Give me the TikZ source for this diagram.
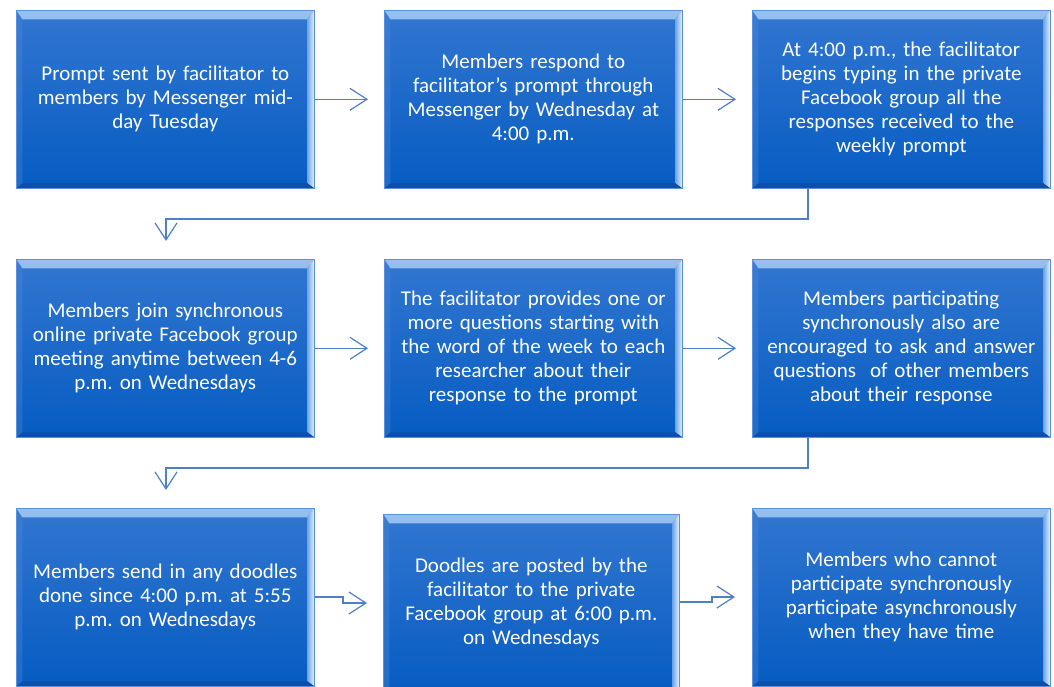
\documentclass[tikz,border=0pt]{standalone}
\usepackage{fontspec}
\setmainfont{Carlito}
\usetikzlibrary{arrows.meta}
\definecolor{bxtop}{RGB}{50,118,208}
\definecolor{bxbot}{RGB}{6,92,194}
\definecolor{bxedge}{RGB}{90,145,220}
\definecolor{bevA}{RGB}{150,192,238}
\definecolor{bevB}{RGB}{72,136,216}
\definecolor{bevR}{RGB}{232,243,255}
\definecolor{bevRi}{RGB}{110,165,230}
\definecolor{bevD}{RGB}{12,78,170}
\definecolor{conn}{RGB}{78,128,200}
\tikzset{
  bx/.style={rectangle, anchor=north west, minimum width=298pt, minimum height=178pt,
    inner sep=0pt, text width=296pt, align=center, text=white,
    font=\fontsize{21}{24}\selectfont\frenchspacing,
    top color=bxtop, bottom color=bxbot, draw=bxedge, line width=0.6pt,
    path picture={
      \shade[top color=bevA, bottom color=bevB]
        (path picture bounding box.north west) -- (path picture bounding box.north east)
        -- ([xshift=-7pt,yshift=-9pt]path picture bounding box.north east)
        -- ([xshift=6pt,yshift=-9pt]path picture bounding box.north west) -- cycle;
      \shade[left color=bevRi, right color=bevR]
        (path picture bounding box.north east) -- (path picture bounding box.south east)
        -- ([xshift=-7pt,yshift=5pt]path picture bounding box.south east)
        -- ([xshift=-7pt,yshift=-9pt]path picture bounding box.north east) -- cycle;
      \fill[bevD]
        (path picture bounding box.south west) -- (path picture bounding box.south east)
        -- ([xshift=-7pt,yshift=5pt]path picture bounding box.south east)
        -- ([xshift=6pt,yshift=5pt]path picture bounding box.south west) -- cycle;
      \fill[bxtop!85!white, opacity=0.35]
        (path picture bounding box.north west) -- (path picture bounding box.south west)
        -- ([xshift=6pt,yshift=5pt]path picture bounding box.south west)
        -- ([xshift=6pt,yshift=-9pt]path picture bounding box.north west) -- cycle;
    }},
  link/.style={draw=conn, line width=1.2pt,
    -{Straight Barb[length=17pt,width=22pt,line width=1.2pt]}},
}
\begin{document}
\begin{tikzpicture}[x=1pt,y=-1pt]
\useasboundingbox (0,0) rectangle (1054,686);
\clip (0,0) rectangle (1054,686);
\fill[white] (0,0) rectangle (1054,686);
% row 1
\node[bx] (b1) at (16,10) {Prompt sent by facilitator to\\members by Messenger mid-\\day Tuesday};
\node[bx] (b2) at (384,10) {Members respond to\\facilitator's prompt through\\Messenger by Wednesday at\\4:00 p.m.};
\node[bx] (b3) at (752,10) {At 4:00 p.m., the facilitator\\begins typing in the private\\Facebook group all the\\responses received to the\\weekly prompt};
% row 2
\node[bx] (b4) at (16,259) {Members join synchronous\\online private Facebook group\\meeting anytime between 4-6\\p.m. on Wednesdays};
\node[bx] (b5) at (384,259) {The facilitator provides one or\\more questions starting with\\the word of the week to each\\researcher about their\\response to the prompt};
\node[bx] (b6) at (752,259) {Members participating\\synchronously also are\\encouraged to ask and answer\\questions\ \ of other members\\about their response};
% row 3
\node[bx] (b7) at (16,508) {Members send in any doodles\\done since 4:00 p.m. at 5:55\\p.m. on Wednesdays};
\node[bx, minimum width=296pt] (b8) at (383,514) {Doodles are posted by the\\facilitator to the private\\Facebook group at 6:00 p.m.\\on Wednesdays};
\node[bx] (b9) at (752,508) {Members who cannot\\participate synchronously\\participate asynchronously\\when they have time};
% coordinates
\coordinate (t4) at (166,241);
\coordinate (t7) at (166,490);
\coordinate (t8) at (367,603);
\coordinate (t9) at (735,597);
% connectors
\draw[link, shorten >=16pt] (b1.east) -- (b2.west);
\draw[link, shorten >=16pt] (b2.east) -- (b3.west);
\draw[link] (b3.south -| 808,0) -- (808,219) -- (166,219) -- (t4);
\draw[link, shorten >=16pt] (b4.east) -- (b5.west);
\draw[link, shorten >=16pt] (b5.east) -- (b6.west);
\draw[link] (b6.south -| 808,0) -- (808,468) -- (166,468) -- (t7);
\draw[link] (b7.east |- 0,597) -- (343,597) -- (343,603) -- (t8);
\draw[link] (b8.east |- 0,602) -- (712,602) -- (712,597) -- (t9);
\end{tikzpicture}
\end{document}
